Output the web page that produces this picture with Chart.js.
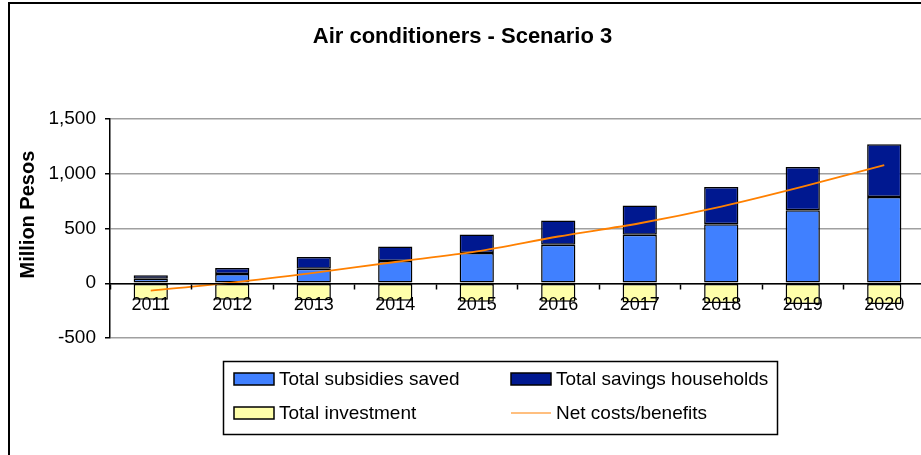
<!DOCTYPE html>
<html>
<head>
<meta charset="utf-8">
<script src="https://cdn.jsdelivr.net/npm/chart.js@4"></script>
<style>
  html, body { margin: 0; padding: 0; background: #fff; overflow: hidden; }
  #wrap { width: 921px; height: 455px; overflow: hidden; }
</style>
</head>
<body>
<div id="wrap"><canvas id="acChart" width="930" height="455"></canvas></div>
<script>
// ---- data (million pesos) ----
const years      = ['2011','2012','2013','2014','2015','2016','2017','2018','2019','2020'];
const subsidies  = [40, 84, 133, 203, 276, 352, 443, 539, 667, 788];
const households = [32, 55, 106, 133, 169, 221, 266, 340, 394, 482];
const investment = [-150, -150, -155, -160, -170, -170, -175, -180, -190, -190];
const netCosts   = [-67, 6, 95, 194, 291, 427, 548, 700, 882, 1079];
const yTicks     = [-500, 0, 500, 1000, 1500];

const FONT = 'Liberation Sans, Arial, sans-serif';

// white page + black frame around the chart
const frame = {
  id: 'frame',
  beforeDraw(chart) {
    const ctx = chart.ctx;
    ctx.save();
    ctx.fillStyle = '#fff';
    ctx.fillRect(0, 0, chart.width, chart.height);
    ctx.strokeStyle = '#000';
    ctx.lineWidth = 2;
    ctx.strokeRect(9, 3, chart.width + 20, chart.height + 20);
    ctx.restore();
  }
};

// two-column legend in a box, under the plot
const legendOrder = ['Total subsidies saved', 'Total savings households', 'Total investment', 'Net costs/benefits'];
const legendBox = {
  id: 'legendBox',
  afterDraw(chart) {
    const ctx = chart.ctx;
    ctx.save();
    ctx.fillStyle = '#fff';
    ctx.fillRect(223, 361, 554, 73);
    ctx.strokeStyle = '#000';
    ctx.lineWidth = 1.5;
    ctx.strokeRect(223.5, 361.5, 554, 73);
    const slots = [[234, 379], [511, 379], [234, 413], [511, 413]];
    ctx.font = '19px ' + FONT;
    ctx.textBaseline = 'middle';
    legendOrder.forEach((name, k) => {
      const d = chart.data.datasets.find((s) => s.label === name);
      const [x, y] = slots[k];
      if (d.type === 'line') {
        ctx.strokeStyle = d.borderColor;
        ctx.lineWidth = 1.2;
        ctx.beginPath();
        ctx.moveTo(x, y);
        ctx.lineTo(x + 40, y);
        ctx.stroke();
      } else {
        ctx.fillStyle = d.backgroundColor;
        ctx.fillRect(x, y - 6, 40, 12);
        ctx.strokeStyle = '#000';
        ctx.lineWidth = 1.5;
        ctx.strokeRect(x, y - 6, 40, 12);
      }
      ctx.fillStyle = '#000';
      ctx.fillText(d.label, x + 45, y + 1);
    });
    ctx.restore();
  }
};

new Chart(document.getElementById('acChart').getContext('2d'), {
  type: 'bar',
  data: {
    labels: years,
    datasets: [
      {
        label: 'Net costs/benefits',
        type: 'line',
        data: netCosts,
        stack: 'net',
        borderColor: '#ff8000',
        borderWidth: 1.8,
        pointRadius: 0,
        tension: 0.3,
        fill: false,
        order: 0
      },
      {
        label: 'Total subsidies saved',
        data: subsidies,
        backgroundColor: '#4080ff',
        borderColor: '#000',
        borderWidth: 1.5,
        borderSkipped: false,
        order: 1
      },
      {
        label: 'Total savings households',
        data: households,
        backgroundColor: '#001890',
        borderColor: '#000',
        borderWidth: 1.5,
        borderSkipped: false,
        order: 1
      },
      {
        label: 'Total investment',
        data: investment,
        backgroundColor: '#ffffaa',
        borderColor: '#000',
        borderWidth: 1.5,
        borderSkipped: false,
        order: 1
      }
    ]
  },
  options: {
    responsive: false,
    animation: false,
    layout: { padding: { left: 0, right: 5, top: 0, bottom: 117 } },
    datasets: { bar: { barPercentage: 0.42, categoryPercentage: 1 } },
    plugins: {
      legend: { display: false },
      tooltip: { enabled: false },
      title: {
        display: true,
        text: 'Air conditioners - Scenario 3',
        color: '#000',
        font: { family: FONT, size: 22, weight: 'bold' },
        padding: { top: 24, bottom: 68.6 }
      }
    },
    scales: {
      x: {
        stacked: true,
        position: { y: 0 },
        border: { color: '#000', width: 1.5, z: 1 },
        grid: { drawOnChartArea: false, offset: true, tickLength: 5, tickColor: '#000', tickWidth: 1.5, z: 1 },
        ticks: { z: 1, color: '#000', padding: 6, maxRotation: 0, font: { family: FONT, size: 18 } }
      },
      y: {
        stacked: true,
        min: -500,
        max: 1500,
        afterBuildTicks: (scale) => { scale.ticks = yTicks.map((v) => ({ value: v })); },
        afterFit: (scale) => { scale.width = 110; },
        border: { color: '#000', width: 1.5 },
        grid: { color: '#a0a0a0', lineWidth: 1.5, tickLength: 5, tickColor: '#000', tickWidth: 1.5 },
        ticks: {
          color: '#000',
          padding: 9,
          font: { family: FONT, size: 19 },
          callback: (v) => v.toLocaleString('en-US')
        },
        title: {
          display: true,
          text: '     Million Pesos',
          color: '#000',
          font: { family: FONT, size: 20, weight: 'bold' },
          padding: { top: 16, bottom: 0 }
        }
      }
    }
  },
  plugins: [frame, legendBox]
});
</script>
</body>
</html>
